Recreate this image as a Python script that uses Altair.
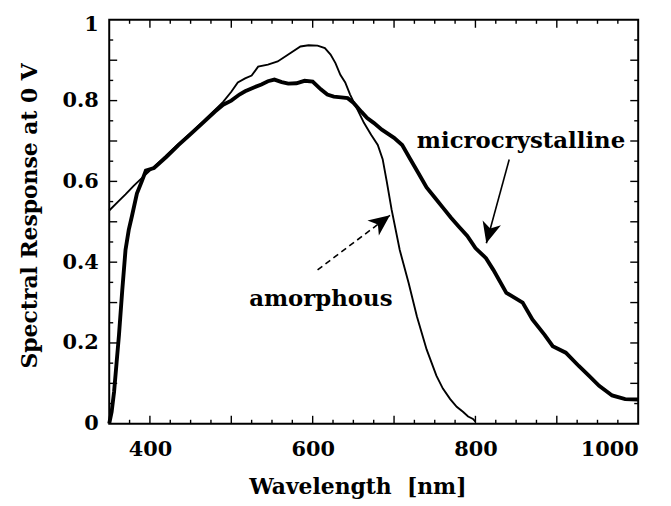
import altair as alt
import pandas as pd

# ---- data ----
wl_amorph = [350, 360, 370, 380, 390, 405, 420, 435, 450, 465, 480, 490, 500, 508, 517, 525, 533,
             545, 557, 570, 585, 595, 606, 615, 622, 628, 634, 640, 646, 652, 663, 672, 680, 686,
             691, 697, 707, 718, 728, 740, 752, 760, 769, 777, 785, 791, 797, 800]
resp_amorph = [0.528, 0.548, 0.568, 0.589, 0.608, 0.636, 0.664, 0.693, 0.720, 0.748, 0.777, 0.797,
               0.822, 0.845, 0.855, 0.862, 0.884, 0.889, 0.897, 0.914, 0.934, 0.937, 0.936, 0.930,
               0.914, 0.893, 0.864, 0.845, 0.815, 0.790, 0.745, 0.715, 0.690, 0.655, 0.600, 0.530,
               0.430, 0.348, 0.266, 0.184, 0.119, 0.087, 0.061, 0.042, 0.029, 0.018, 0.012, 0.005]

wl_micro = [350, 353, 356, 359, 362, 366, 370, 374, 378, 384, 390, 395, 405, 420, 435, 450, 465,
            480, 490, 500, 510, 517, 527, 537, 545, 553, 562, 570, 580, 590, 600, 610, 618, 626,
            635, 643, 650, 660, 667, 675, 685, 700, 710, 720, 730, 740, 750, 760, 770, 780, 790,
            800, 813, 822, 838, 858, 870, 885, 895, 911, 927, 940, 952, 968, 984, 1000]
resp_micro = [0.0, 0.03, 0.08, 0.15, 0.22, 0.33, 0.43, 0.48, 0.515, 0.57, 0.600, 0.627, 0.633,
              0.660, 0.690, 0.717, 0.745, 0.773, 0.790, 0.800, 0.815, 0.823, 0.832, 0.840, 0.848,
              0.852, 0.846, 0.842, 0.843, 0.849, 0.847, 0.828, 0.815, 0.810, 0.808, 0.806, 0.795,
              0.772, 0.757, 0.745, 0.728, 0.708, 0.690, 0.655, 0.620, 0.585, 0.560, 0.535, 0.510,
              0.487, 0.465, 0.435, 0.410, 0.381, 0.324, 0.300, 0.258, 0.220, 0.192, 0.176, 0.143,
              0.118, 0.094, 0.070, 0.061, 0.060]

x_tick_labels = [400, 600, 800, 1000]
y_tick_labels = [0, 0.2, 0.4, 0.6, 0.8, 1]
x_major_ticks = [400, 500, 600, 700, 800, 900]
x_minor_ticks = [375, 425, 450, 475, 525, 550, 575, 625, 650, 675, 725, 750, 775, 825, 850, 875,
                 925, 950, 975]
y_major_ticks = [0.1, 0.2, 0.3, 0.4, 0.5, 0.6, 0.7, 0.8, 0.9]
y_minor_ticks = [0.05, 0.15, 0.25, 0.35, 0.45, 0.55, 0.65, 0.75, 0.85, 0.95]

ann_labels = ["amorphous", "microcrystalline"]
ann_wl = [610, 856]
ann_resp = [0.292, 0.683]

arrow_amorph = {"wl": [606], "r": [0.381], "wl2": [695], "r2": [0.516]}
arrow_micro = {"wl": [841.5], "r": [0.654], "wl2": [813.4], "r2": [0.447]}

# ---- chart ----
FONT = "DejaVu Serif"
W, H = 533, 407
xs = alt.Scale(domain=[350, 1000], nice=False, zero=False)
ys = alt.Scale(domain=[0, 1], nice=False, zero=False)

axis_x = alt.Axis(values=x_tick_labels, format="d", title="Wavelength \u00a0[nm]", grid=False,
                  ticks=False, tickSize=0, domain=False, labelFont=FONT, labelFontSize=21,
                  labelFontWeight="bold", labelColor="black", labelPadding=15,
                  titleFont=FONT, titleFontSize=22, titleFontWeight="bold", titleColor="black",
                  titleX=250, titleY=70, titleBaseline="alphabetic")
axis_y = alt.Axis(values=y_tick_labels, format="~g", title="Spectral Response at 0 V", grid=False,
                  ticks=False, tickSize=0, domain=False, labelFont=FONT, labelFontSize=21,
                  labelFontWeight="bold", labelColor="black", labelPadding=11,
                  labelOffset={"condition": {"test": "datum.value == 1", "value": 5}, "value": 0},
                  titleFont=FONT, titleFontSize=22, titleFontWeight="bold", titleColor="black",
                  titleX=-73, titleY=197, titleAngle=-90, titleBaseline="alphabetic")


def X(field):
    return alt.X(field, scale=xs, axis=axis_x)


def Y(field):
    return alt.Y(field, scale=ys, axis=axis_y)


amorph_df = pd.DataFrame({"wl": wl_amorph, "r": resp_amorph})
micro_df = pd.DataFrame({"wl": wl_micro, "r": resp_micro})

line_a = alt.Chart(amorph_df).mark_line(color="black", strokeWidth=1.9).encode(
    x=X("wl:Q"), y=Y("r:Q"))
line_m = alt.Chart(micro_df).mark_line(color="black", strokeWidth=3.9).encode(
    x=X("wl:Q"), y=Y("r:Q"))


def xticks(vals, length, top):
    df = pd.DataFrame({"t": vals})
    if top:
        yy, yy2 = alt.value(0), alt.value(length)
    else:
        yy, yy2 = alt.value(H), alt.value(H - length)
    return alt.Chart(df).mark_rule(color="black", strokeWidth=1.4).encode(
        x=X("t:Q"), y=yy, y2=yy2)


def yticks(vals, length, right):
    df = pd.DataFrame({"t": vals})
    if right:
        xx, xx2 = alt.value(W), alt.value(W - length)
    else:
        xx, xx2 = alt.value(0), alt.value(length)
    return alt.Chart(df).mark_rule(color="black", strokeWidth=1.4).encode(
        y=Y("t:Q"), x=xx, x2=xx2)


tick_layers = [
    xticks(x_major_ticks, 8, False), xticks(x_minor_ticks, 4, False),
    xticks(x_major_ticks, 8, True), xticks(x_minor_ticks, 4, True),
    yticks(y_major_ticks, 8, False), yticks(y_minor_ticks, 4, False),
    yticks(y_major_ticks, 8, True), yticks(y_minor_ticks, 4, True),
]

ann_df = pd.DataFrame({"label": ann_labels, "wl": ann_wl, "r": ann_resp})
texts = alt.Chart(ann_df).mark_text(font=FONT, fontSize=23, fontWeight="bold", color="black",
                                    align="center", baseline="alphabetic").encode(
    x=X("wl:Q"), y=Y("r:Q"), text="label:N")

HEAD = "M0,0 L-1,-0.45 L-0.72,0 L-1,0.45 Z"


def arrow(d, dashed, ang):
    df = pd.DataFrame(d)
    kw = {"strokeDash": [6, 4]} if dashed else {}
    shaft = alt.Chart(df).mark_rule(color="black", strokeWidth=1.6, **kw).encode(
        x=X("wl:Q"), y=Y("r:Q"), x2="wl2:Q", y2="r2:Q")
    head = alt.Chart(df).mark_point(shape=HEAD, filled=True, size=1800, color="black",
                                    opacity=1, angle=ang).encode(
        x=X("wl2:Q"), y=Y("r2:Q"))
    return [shaft, head]


chart = alt.layer(
    line_a, line_m, *tick_layers, texts,
    *arrow(arrow_amorph, True, 323), *arrow(arrow_micro, False, 105),
).properties(
    width=W, height=H,
    autosize=alt.AutoSizeParams(type="none"),
    padding={"left": 102, "top": 10, "right": 25, "bottom": 85},
    background="white",
).configure_view(stroke="black", strokeWidth=2)

chart.save("out.html", embed_options={"renderer": "svg", "actions": False})
